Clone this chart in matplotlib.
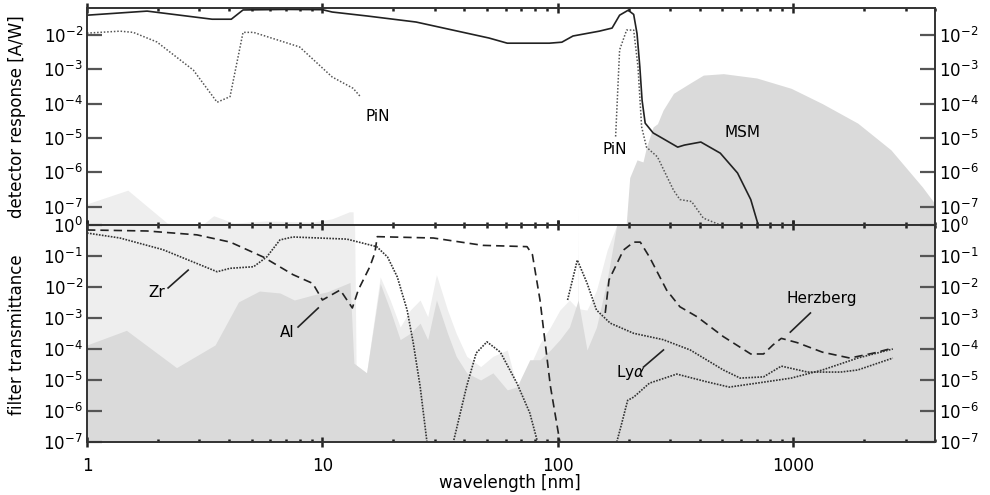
import matplotlib
matplotlib.use("Agg")
import matplotlib.pyplot as plt
import matplotlib.ticker as mticker
import numpy as np

# ---- top panel: detector response [A/W] ----
msm_wl = [1, 1.8, 3.4, 4.1, 4.6, 7, 10, 11, 15.5, 25, 51, 61, 92, 104, 116, 150, 170,
          183, 199, 210, 217, 223, 228, 235, 254, 272, 323, 345, 405, 490, 580, 660, 710]
msm_resp = [0.038, 0.05, 0.029, 0.029, 0.054, 0.056, 0.055, 0.047, 0.036, 0.024, 0.0082,
            0.0058, 0.0058, 0.0062, 0.0094, 0.013, 0.016, 0.038, 0.053, 0.04, 0.011, 1.2e-3,
            1.25e-4, 2.7e-5, 1.4e-5, 1.07e-5, 5.4e-6, 6.2e-6, 7.6e-6, 3.6e-6, 9.5e-7, 1.6e-7, 2.9e-8]

pin_wl = [1, 1.38, 1.57, 1.98, 2.83, 3.57, 4.05, 4.6, 5.1, 8.0, 11, 13.5, 14.5]
pin_resp = [0.0114, 0.013, 0.012, 0.0063, 9.5e-4, 1.1e-4, 1.6e-4, 0.012, 0.012, 0.0045,
            6e-4, 2.8e-4, 1.6e-4]

pin2_wl = [176, 183, 196, 210, 219, 227, 238, 265, 310, 330, 370, 415, 490]
pin2_resp = [1.1e-5, 3.7e-3, 0.014, 0.014, 1.2e-3, 2.1e-5, 5.4e-6, 2.8e-6, 3e-7, 1.6e-7,
             1.4e-7, 4.6e-8, 2.9e-8]

# solar spectrum shading seen in the top panel
sun_top_light_wl = [1, 1.49, 2.19, 3.0, 3.45, 4.2, 5.8, 9.1, 11, 13, 13.5, 13.6,
                    121.3, 121.6, 121.9]
sun_top_light = [1.2e-7, 3e-7, 3.3e-8, 2.5e-8, 5.4e-8, 3.3e-8, 3.8e-8, 3.5e-8, 4.4e-8,
                 7e-8, 7e-8, 1e-9, 1e-9, 9e-8, 1e-9]
sun_top_dark_wl = [188, 202, 217, 230, 238, 254, 265, 280, 310, 365, 415, 505, 700, 980,
                   1330, 1880, 2600, 3540, 4000]
sun_top_dark = [1e-9, 7e-7, 2.3e-6, 2e-6, 5.4e-6, 2.1e-5, 2.6e-5, 6.5e-5, 2e-4, 4e-4, 6.8e-4,
                7.5e-4, 5.6e-4, 2.8e-4, 1e-4, 2.7e-5, 4.5e-6, 3.7e-7, 1.2e-7]

# ---- bottom panel: filter transmittance ----
sun_light_wl = [1, 13.7, 13.9, 15.4, 17.6, 19.4, 21.4, 23.6, 26, 28, 30.5, 34, 37, 41, 47,
                53, 61, 67, 76, 84, 93, 102, 112, 121.2, 121.6, 122.0, 133, 146, 162, 178, 4000]
sun_light = [1, 1, 3e-5, 1.7e-5, 0.021, 3.8e-3, 5.1e-4, 1.8e-3, 3.8e-3, 1.1e-3, 0.025,
             1.8e-3, 3.2e-4, 5.8e-5, 2.7e-5, 5.8e-5, 9.3e-5, 6e-6, 2.7e-5, 1.5e-4, 5.1e-4,
             1.8e-3, 3.8e-3, 2e-3, 1, 2e-3, 1.8e-3, 7.9e-3, 0.155, 1, 1]
sun_dark_wl = [1, 1.47, 2.4, 3.5, 4.4, 5.4, 6.6, 7.6, 9.1, 10.5, 13.1, 13.6, 14.3, 15.4,
               17.6, 19.4, 21.4, 23.6, 26, 28, 30.5, 34, 37, 41, 47, 53, 61, 67, 76, 84, 93,
               102, 112, 122, 133, 146, 162, 178, 4000]
sun_dark = [1.35e-4, 4e-4, 2.5e-5, 1.35e-4, 3.3e-3, 7.4e-3, 6.4e-3, 3.8e-3, 5.5e-3, 7e-3,
            1.4e-2, 3.5e-5, 2.6e-5, 1.7e-5, 1.3e-2, 1.8e-3, 2e-4, 3.2e-4, 6.8e-4, 2e-4,
            3.8e-3, 3.2e-4, 5.8e-5, 1.7e-5, 1e-5, 1.7e-5, 4.8e-6, 6e-6, 4.5e-5, 4.5e-5,
            9.3e-5, 2e-4, 5.1e-4, 3.8e-3, 9.3e-5, 5.1e-4, 0.017, 1, 1]

zr_wl = [1, 1.38, 2.1, 3.57, 4.05, 5.1, 5.8, 6.6, 7.5, 12.7, 17, 18.9, 20.8, 22.9, 24.3,
         26, 27.8, 32, 36, 41, 45, 50, 57, 67, 76, 82]
zr_trans = [0.55, 0.38, 0.16, 0.031, 0.04, 0.045, 0.093, 0.33, 0.41, 0.35, 0.2, 0.093,
            0.021, 1.8e-3, 1.6e-4, 6.3e-6, 1e-7, 1e-9, 1e-7, 6.3e-6, 7.4e-5, 1.7e-4, 7.9e-5,
            7.9e-6, 8.7e-7, 1e-7]

al_wl = [1, 1.8, 2.93, 4.06, 5.6, 7.5, 9.1, 10, 11.9, 13.4, 14.2, 15.9, 16.7, 17.1, 29.6,
         48, 74, 78, 84, 93, 102]
al_trans = [0.69, 0.64, 0.48, 0.28, 0.093, 0.025, 0.013, 3.8e-3, 8e-3, 2.1e-3, 8e-3, 0.045,
            0.126, 0.42, 0.38, 0.22, 0.2, 0.11, 3.8e-3, 6.3e-6, 1e-7]

lya_wl = [110, 121, 133, 146, 167, 210, 280, 365, 505, 595, 748, 890, 1150, 1590, 1880, 2650]
lya_trans = [3.8e-3, 0.074, 1.35e-2, 1.8e-3, 6.8e-4, 3.2e-4, 2e-4, 9.3e-5, 2.1e-5, 1.15e-5,
             1.26e-5, 2.8e-5, 1.8e-5, 1.8e-5, 2.1e-5, 5.1e-5]

herz_wl = [159, 165, 190, 210, 224, 245, 290, 330, 390, 505, 660, 748, 820, 890, 1040,
           1330, 1740, 2200, 2650]
herz_trans = [1.45e-3, 0.017, 0.155, 0.28, 0.28, 0.093, 7.9e-3, 2.3e-3, 1.1e-3, 2.5e-4,
              6.9e-5, 6.9e-5, 1.35e-4, 2.2e-4, 1.6e-4, 7.9e-5, 5.1e-5, 7.4e-5, 1.07e-4]

uv_wl = [178, 185, 198, 210, 245, 320, 430, 535, 700, 980, 1330, 1880, 2650]
uv_trans = [1e-7, 3e-7, 2.2e-6, 2.8e-6, 7.9e-6, 1.55e-5, 8.7e-6, 5.9e-6, 7.9e-6, 1.15e-5,
            2.1e-5, 5.1e-5, 1e-4]

top_ticks = [1e-2, 1e-3, 1e-4, 1e-5, 1e-6, 1e-7]
bottom_ticks = [1, 1e-1, 1e-2, 1e-3, 1e-4, 1e-5, 1e-6, 1e-7]
x_ticks = [1, 10, 100, 1000]

LIGHT = "#eeeeee"
DARK = "#dadada"
INK = "#222222"

plt.rcParams["font.family"] = ["DejaVu Sans"]
fig = plt.figure(figsize=(9.9, 4.95), dpi=100)
ax1 = fig.add_axes([0.0879, 0.5455, 0.8565, 0.4383])
ax2 = fig.add_axes([0.0879, 0.1071, 0.8565, 0.4384])


def exp_label(v, pos):
    return r"$10^{%d}$" % int(round(np.log10(v)))


for ax, ticks in ((ax1, top_ticks), (ax2, bottom_ticks)):
    ax.set_xscale("log")
    ax.set_yscale("log")
    ax.set_xlim(1, 4000)
    ax.yaxis.set_major_locator(mticker.FixedLocator(ticks))
    ax.yaxis.set_minor_locator(mticker.NullLocator())
    ax.yaxis.set_major_formatter(mticker.FuncFormatter(exp_label))
    ax.xaxis.set_major_locator(mticker.FixedLocator(x_ticks))
    ax.xaxis.set_minor_locator(mticker.LogLocator(subs=np.arange(2, 10)))
    ax.tick_params(axis="y", which="major", direction="in", length=11, width=1.6,
                   color="#555555", left=True, right=True, labelleft=True,
                   labelright=True, labelsize=12, pad=3)
    ax.tick_params(axis="x", which="major", direction="inout", length=7, width=1.8,
                   color=INK, top=True, bottom=True)
    ax.tick_params(axis="x", which="minor", direction="in", length=2.5, width=1.8,
                   color=INK, top=True, bottom=True)
    for sp in ax.spines.values():
        sp.set_color("#333333")
        sp.set_linewidth(1.4)

ax1.set_ylim(2.9e-8, 0.0615)
ax2.set_ylim(1e-7, 1)
ax1.tick_params(axis="x", labelbottom=False)
ax2.xaxis.set_major_formatter(mticker.FuncFormatter(lambda v, p: "%d" % v))
ax2.tick_params(axis="x", labelsize=12, pad=7)

# top panel
ax1.fill_between(sun_top_light_wl, 1e-9, sun_top_light, color=LIGHT, lw=0, zorder=0)
ax1.fill_between(sun_top_dark_wl, 1e-9, sun_top_dark, color=DARK, lw=0, zorder=0)
ax1.plot(msm_wl, msm_resp, color=INK, lw=1.2)
ax1.plot(pin_wl, pin_resp, color="#555555", lw=1.1, ls=(0, (1, 1.2)))
ax1.plot(pin2_wl, pin2_resp, color="#555555", lw=1.1, ls=(0, (1, 1.2)))
ax1.text(17.2, 4.1e-5, "PiN", fontsize=11, ha="center", va="center")
ax1.text(174, 4.5e-6, "PiN", fontsize=11, ha="center", va="center")
ax1.text(608, 1.4e-5, "MSM", fontsize=11, ha="center", va="center")

# bottom panel
ax2.fill_between(sun_light_wl, 1e-9, sun_light, color=LIGHT, lw=0, zorder=0)
ax2.fill_between(sun_dark_wl, 1e-9, sun_dark, color=DARK, lw=0, zorder=0)
dash = (0, (5, 3))
dots = (0, (1, 0.8))
ax2.plot(al_wl, al_trans, color=INK, lw=1.2, ls=dash)
ax2.plot(zr_wl, zr_trans, color="#333333", lw=1.2, ls=dots)
ax2.plot(lya_wl, lya_trans, color="#333333", lw=1.2, ls=dots)
ax2.plot(herz_wl, herz_trans, color=INK, lw=1.2, ls=dash)
ax2.plot(uv_wl, uv_trans, color="#333333", lw=1.2, ls=dots)

# labels with leader lines
ax2.text(1.98, 6.4e-3, "Zr", fontsize=11, ha="center", va="center")
ax2.plot([2.21, 2.69], [9.3e-3, 0.035], color=INK, lw=1.2)
ax2.text(7.08, 3.5e-4, "Al", fontsize=11, ha="center", va="center")
ax2.plot([7.88, 9.6], [5.1e-4, 2.1e-3], color=INK, lw=1.2)
ax2.text(203, 1.7e-5, r"Ly$\alpha$", fontsize=11, ha="center", va="center")
ax2.plot([231, 281], [2.6e-5, 9.3e-5], color=INK, lw=1.2)
ax2.text(1316, 4.4e-3, "Herzberg", fontsize=11, ha="center", va="center")
ax2.plot([972, 1183], [3.5e-4, 1.45e-3], color=INK, lw=1.2)

fig.text(0.017, 1 - 117 / 495, "detector response [A/W]", rotation=90,
         ha="center", va="center", fontsize=12)
fig.text(0.017, 1 - 335 / 495, "filter transmittance", rotation=90,
         ha="center", va="center", fontsize=12)
fig.text(0.515, 1 - 483 / 495, "wavelength [nm]", ha="center", va="center", fontsize=12)

fig.savefig("out.png", dpi=100)
